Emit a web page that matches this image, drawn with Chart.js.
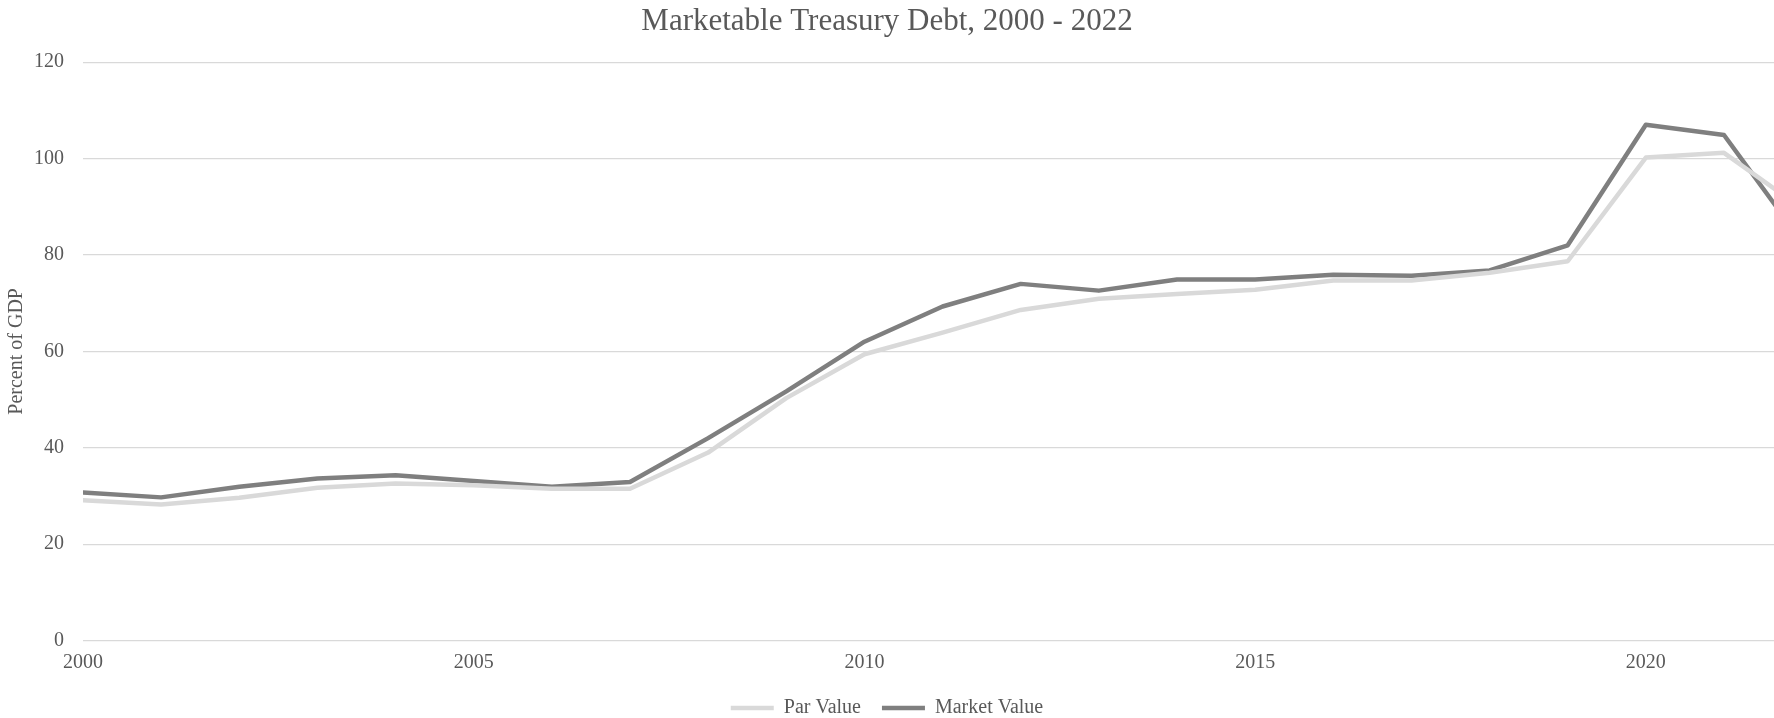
<!DOCTYPE html>
<html>
<head>
<meta charset="utf-8">
<script src="https://cdn.jsdelivr.net/npm/chart.js@4.4.1/dist/chart.umd.min.js"></script>
<style>
    html, body { margin: 0; padding: 0; background: #ffffff; }
    #wrap { width: 1774px; height: 718px; }
</style>
</head>
<body>
<div id="wrap"><canvas id="chart-debt"></canvas></div>
<script>
// years on the x axis
const years = [2000, 2001, 2002, 2003, 2004, 2005, 2006, 2007, 2008, 2009, 2010,
    2011, 2012, 2013, 2014, 2015, 2016, 2017, 2018, 2019, 2020, 2021, 2022];

// percent of GDP
const par_value = [29.1, 28.2, 29.6, 31.7, 32.6, 32.2, 31.5, 31.5, 39.0, 50.3, 59.4,
    63.9, 68.6, 70.9, 71.9, 72.8, 74.7, 74.7, 76.3, 78.7, 100.2, 101.2, 89.6];
const market_value = [30.7, 29.7, 31.9, 33.6, 34.3, 33.1, 31.9, 32.9, 42.0, 51.7, 62.0,
    69.3, 74.0, 72.6, 74.9, 74.9, 75.9, 75.7, 76.8, 82.0, 107.0, 104.9, 82.7];

const y_ticks = [0, 20, 40, 60, 80, 100, 120];
const x_ticks = [2000, 2005, 2010, 2015, 2020];

const text_color = "#595959";
const font_family = "'Liberation Serif', 'Times New Roman', serif";

const to_points = (values) => years.map((y, i) => ({ x: y, y: values[i] }));

let ctx = document.getElementById("chart-debt");

new Chart(ctx, {
    type: "line",
    data: {
        datasets: [
            {
                label: "Par Value",
                data: to_points(par_value),
                borderColor: "#d9d9d9",
                backgroundColor: "#d9d9d9",
                borderWidth: 4.5,
                borderCapStyle: "round",
                borderJoinStyle: "round",
                pointRadius: 0,
                tension: 0,
                fill: false,
            },
            {
                label: "Market Value",
                data: to_points(market_value),
                borderColor: "#7f7f7f",
                backgroundColor: "#7f7f7f",
                borderWidth: 4.5,
                borderCapStyle: "round",
                borderJoinStyle: "round",
                pointRadius: 0,
                tension: 0,
                fill: false,
            },
        ],
    },
    options: {
        responsive: true,
        maintainAspectRatio: false,
        animation: false,
        // the legend sits a little lower than chart.js would put it
        layout: { padding: { left: 0, right: 0, top: 0, bottom: -10 } },
        plugins: {
            title: {
                display: true,
                text: "Marketable Treasury Debt, 2000 - 2022",
                color: text_color,
                font: { family: font_family, size: 31, weight: "normal" },
                padding: { top: 3, bottom: 22 },
            },
            legend: {
                position: "bottom",
                labels: {
                    color: text_color,
                    font: { family: font_family, size: 20 },
                    usePointStyle: true,
                    pointStyle: "line",
                    pointStyleWidth: 43,
                    padding: 21,
                },
            },
            tooltip: { enabled: false },
        },
        scales: {
            x: {
                type: "linear",
                min: 2000,
                max: 2021.64,
                afterBuildTicks: (scale) => {
                    scale.ticks = x_ticks.map((v) => ({ value: v }));
                },
                afterFit: (scale) => {
                    scale.height = 36.5;
                },
                ticks: {
                    color: text_color,
                    font: { family: font_family, size: 20 },
                    padding: 10.5,
                    maxRotation: 0,
                    callback: (v) => String(v),
                },
                grid: { display: false, drawTicks: false },
                border: { display: false },
            },
            y: {
                min: 0,
                max: 120,
                afterBuildTicks: (scale) => {
                    scale.ticks = y_ticks.map((v) => ({ value: v }));
                },
                afterFit: (scale) => {
                    scale.width = 83;
                },
                title: {
                    display: true,
                    text: "Percent of GDP",
                    color: text_color,
                    font: { family: font_family, size: 20 },
                    padding: { top: 5, bottom: 0 },
                },
                ticks: {
                    color: text_color,
                    font: { family: font_family, size: 20 },
                    padding: 19,
                },
                grid: { color: "#d9d9d9", lineWidth: 1.2, drawTicks: false },
                border: { display: false },
            },
        },
    },
});
</script>
</body>
</html>
